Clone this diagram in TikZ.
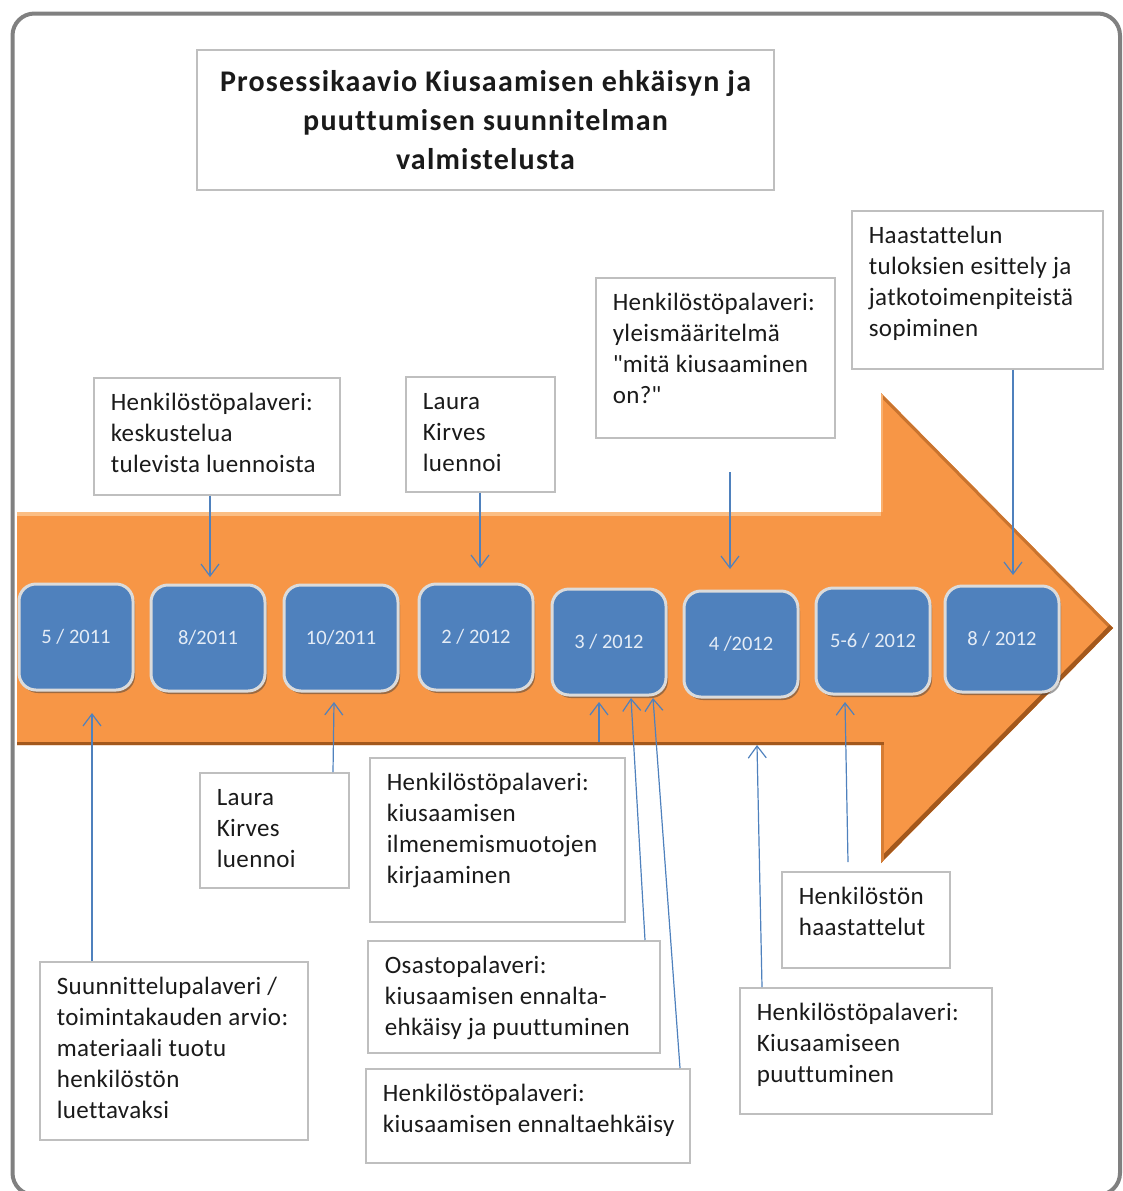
\documentclass[tikz,border=0pt]{standalone}
\usepackage{fontspec}
\setmainfont{Carlito}[Ligatures={TeX,NoCommon}]
\usetikzlibrary{arrows.meta,shadows}
\definecolor{frameg}{HTML}{808080}
\definecolor{boxg}{HTML}{BFBFBF}
\definecolor{orng}{HTML}{F79646}
\definecolor{orngL}{HTML}{FCCB98}
\definecolor{orngD}{HTML}{A3581C}
\definecolor{blu}{HTML}{4F81BD}
\definecolor{arr}{HTML}{4F81BD}
\definecolor{datetxt}{HTML}{E4ECF6}
\definecolor{txt}{HTML}{1A1A1A}
\newcommand{\tbx}[6]{%
  \node[tbox] (#1) at (#2,#3) {\parbox[b][\dimexpr#5pt-#3pt\relax][t]{\dimexpr#4pt-#2pt\relax}{\raggedright\leftskip=17pt\relax\addfontfeatures{LetterSpace=1.6}\rule{0pt}{33pt}#6\par}};}
\begin{document}
\begin{tikzpicture}[x=1pt,y=-1pt,
  tbox/.style={draw=boxg, line width=1.5pt, fill=white, inner sep=0pt, anchor=north west,
    font=\fontsize{25}{31}\selectfont, text=txt},
  datebox/.style={draw=white!86!black, line width=3pt, fill=blu, rounded corners=17pt,
    minimum width=114pt, minimum height=106pt, inner sep=0pt, text=datetxt,
    font=\fontsize{20.5}{24}\selectfont,
    drop shadow={shadow xshift=2pt, shadow yshift=-3pt, opacity=0.5, fill=black!75}},
  conn/.style={draw=arr, line width=1.2pt, -{Straight Barb[length=12pt,width=18pt]}}]
\useasboundingbox (0,0) rectangle (1122,1191);
% outer frame
\draw[frameg, line width=4pt, rounded corners=22pt] (12.5,13.5) rectangle (1120,1195);
% title
\node[draw=boxg, line width=1.5pt, minimum width=577pt, minimum height=140pt, inner sep=0pt,
  align=center, text=txt, font=\bfseries\fontsize{30}{39}\selectfont\addfontfeatures{LetterSpace=4}] (title) at (485.5,120)
  {Prosessikaavio Kiusaamisen ehkäisyn ja\\ puuttumisen suunnitelman\\ valmistelusta};
% big arrow
\fill[orng] (17,512) -- (881,512) -- (881,393) -- (1113,628) -- (881,863) -- (881,745) -- (17,745) -- cycle;
\begin{scope}
  \clip (17,512) -- (881,512) -- (881,393) -- (1113,628) -- (881,863) -- (881,745) -- (17,745) -- cycle;
  \draw[orngD!55!orng, line width=6pt] (881,393) -- (1113,628);
  \draw[orngD, line width=9pt] (1113,628) -- (881,863);
  \draw[orngD, line width=7pt] (17,745) -- (884,745);
  \draw[orngD!40!orng, line width=5pt] (881,745) -- (881,863);
  \draw[orngL!75!orng, line width=7pt] (17,512) -- (881,512);
  \draw[orngL!50!orng, line width=4pt] (881,393) -- (881,512);
\end{scope}
% date boxes
\node[datebox] (d1) at (76,637) {5 / 2011};
\node[datebox] (d2) at (208,638) {8/2011};
\node[datebox] (d3) at (341,638) {10/2011};
\node[datebox] (d4) at (476,637) {2 / 2012};
\node[datebox] (d5) at (609,642) {3 / 2012};
\node[datebox] (d6) at (741,644) {4 /2012};
\node[datebox] (d7) at (873,641) {5-6 / 2012};
\node[datebox] (d8) at (1002,639) {8 / 2012};
% text boxes
\tbx{kesk}{93}{377}{339}{494}{Henkilöstöpalaveri:\\ keskustelua\\ tulevista luennoista}
\tbx{laura1}{405}{376}{554}{491}{Laura\\ Kirves\\ luennoi}
\tbx{ylei}{595}{277}{834}{437}{Henkilöstöpalaveri:\\ yleismääritelmä\\ \textquotedbl mitä kiusaaminen\\ on?\textquotedbl}
\tbx{haas}{851}{210}{1102}{368}{Haastattelun\\ tuloksien esittely ja\\ jatkotoimenpiteistä\\ sopiminen}
\tbx{laura2}{199}{772}{348}{887}{Laura\\ Kirves\\ luennoi}
\tbx{suun}{39}{961}{307}{1139}{Suunnittelupalaveri /\\ toimintakauden arvio:\\ materiaali tuotu\\ henkilöstön\\ luettavaksi}
\tbx{ilme}{369}{757}{624}{921}{Henkilöstöpalaveri:\\ kiusaamisen\\ ilmenemismuotojen\\ kirjaaminen}
\tbx{osas}{367}{940}{659}{1052}{Osastopalaveri:\\ kiusaamisen ennalta-\\ ehkäisy ja puuttuminen}
\tbx{enna}{365}{1068}{689}{1162}{Henkilöstöpalaveri:\\ kiusaamisen ennaltaehkäisy}
\tbx{hhaas}{781}{871}{949}{967}{Henkilöstön\\ haastattelut}
\tbx{kiu}{739}{987}{991}{1113}{Henkilöstöpalaveri:\\ Kiusaamiseen\\ puuttuminen}
% connector end points
\coordinate (t2) at (210,577);
\coordinate (t4) at (480,568);
\coordinate (s6) at (730,472);
\coordinate (t6) at (730,569);
\coordinate (t8) at (1013,575);
\coordinate (b1) at (92,713);
\coordinate (b2) at (334,702);
\coordinate (s3) at (599,742);
\coordinate (b3) at (599,702);
\coordinate (b4) at (631,698);
\coordinate (b5) at (653,698);
\coordinate (b6) at (757,745);
\coordinate (s7) at (848,862);
\coordinate (b7) at (845,702);
% connectors
\draw[conn] (kesk.south -| t2) -- (t2);
\draw[conn] (laura1.south -| t4) -- (t4);
\draw[conn] (s6) -- (t6);
\draw[conn] (haas.south -| t8) -- (t8);
\draw[conn] (suun.north -| b1) -- (b1);
\draw[conn] (laura2.north -| 333,0) -- (b2);
\draw[conn] (s3) -- (b3);
\draw[conn] (osas.north -| 645,0) -- (b4);
\draw[conn] (enna.north -| 680,0) -- (b5);
\draw[conn] (kiu.north -| 762,0) -- (b6);
\draw[conn] (s7) -- (b7);
\end{tikzpicture}
\end{document}
